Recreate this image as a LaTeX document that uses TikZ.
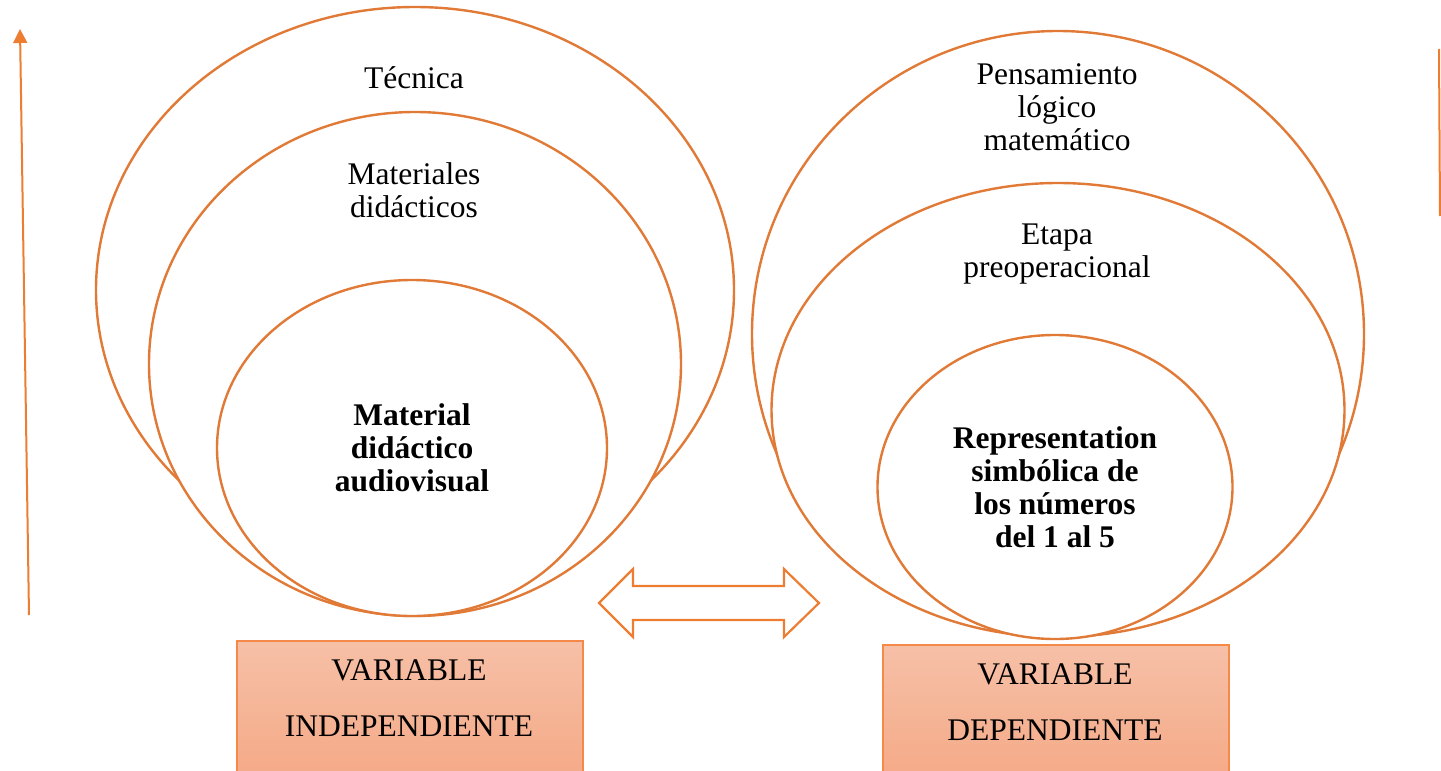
\documentclass[tikz,border=0pt]{standalone}
\usepackage{fontspec}
\setmainfont{Liberation Serif}
\usepackage{tikz}
\usepackage{xcolor}
\usetikzlibrary{shapes.geometric,arrows.meta}
\definecolor{ringcolorc}{HTML}{E07A36}
\definecolor{arrowcolorc}{HTML}{ED7D31}
\definecolor{boxtopc}{HTML}{F6C0A7}
\definecolor{boxbottomc}{HTML}{F4A47F}
\definecolor{boxlinec}{HTML}{F4894A}
\colorlet{ringcolor}{ringcolorc}
\colorlet{arrowcolor}{arrowcolorc}
\colorlet{boxtop}{boxtopc}
\colorlet{boxbottom}{boxbottomc}
\colorlet{boxline}{boxlinec}
\tikzstyle{myring} =[
    ellipse,
    draw=ringcolor,
    fill=white,
    line width=2.4pt,
    inner sep=0pt
    ]
\tikzstyle{ringtext} =[
    align=center,
    inner sep=0pt,
    font=\fontsize{31.5}{33}\selectfont
    ]
\tikzstyle{keytext} =[
    ringtext,
    font=\fontsize{31.5}{33}\selectfont\bfseries
    ]
\tikzstyle{varbox} =[
    rectangle,
    draw=boxline,
    line width=1.5pt,
    top color=boxtop,
    bottom color=boxbottom,
    anchor=north west,
    minimum width=346pt,
    minimum height=170pt,
    inner sep=0pt
    ]
\tikzstyle{vartext} =[
    align=center,
    inner sep=0pt,
    font=\fontsize{31.5}{56}\selectfont
    ]
\tikzstyle{linkarrow} =[
    draw=arrowcolor,
    fill=white,
    line width=2.2pt,
    line join=miter
    ]
\tikzstyle{axisline} =[
    draw=arrowcolor,
    line width=2pt
    ]

\begin{document}
\begin{tikzpicture}[x=1pt, y=-1pt]
\clip (0,0) rectangle (1441,771);

% left: independent variable
\node[myring, minimum width=638pt, minimum height=566pt] (tecL) at (415,290) {};
\node[myring, minimum width=532pt, minimum height=504pt] (matL) at (415,364) {};
\node[myring, minimum width=390pt, minimum height=336pt] (audL) at (412,448) {};
\node[ringtext] (tecT) at (414,78) {Técnica};
\node[ringtext] (matT) at (414,190) {Materiales\\didácticos};
\node[keytext] (audT) at (412,448) {Material\\didáctico\\audiovisual};

% right: dependent variable
\node[myring, minimum width=612pt, minimum height=606pt] (penR) at (1058,334) {};
\node[myring, minimum width=573pt, minimum height=454pt] (etaR) at (1058,410) {};
\node[myring, minimum width=355pt, minimum height=304pt] (repR) at (1055,487) {};
\node[ringtext] (penT) at (1057,107) {Pensamiento\\lógico\\matemático};
\node[ringtext] (etaT) at (1057,254) {Etapa\\preoperacional};
\node[keytext] (repT) at (1055,487) {Representation\\simbólica de\\los números\\del 1 al 5};

% variable boxes
\node[varbox] (ivbox) at (236,640) {};
\node[vartext] (ivtext) at (409,698) {VARIABLE\\INDEPENDIENTE};
\node[varbox] (dvbox) at (882,644) {};
\node[vartext] (dvtext) at (1055,702) {VARIABLE\\DEPENDIENTE};

% link between both sides
\draw[linkarrow] (599,603) -- (633,569) -- (633,586) -- (784,586) -- (784,569)
    -- (819,603) -- (784,637) -- (784,620) -- (633,620) -- (633,637) -- cycle;

% side lines
\coordinate (axisbottom) at (29,615);
\coordinate (axistop) at (20,29);
\draw[axisline, -{Triangle[length=14pt,width=14pt]}] (axisbottom) -- (axistop);
\coordinate (edgetop) at (1439,49);
\coordinate (edgebottom) at (1440,216);
\draw[axisline] (edgetop) -- (edgebottom);
\end{tikzpicture}
\end{document}
